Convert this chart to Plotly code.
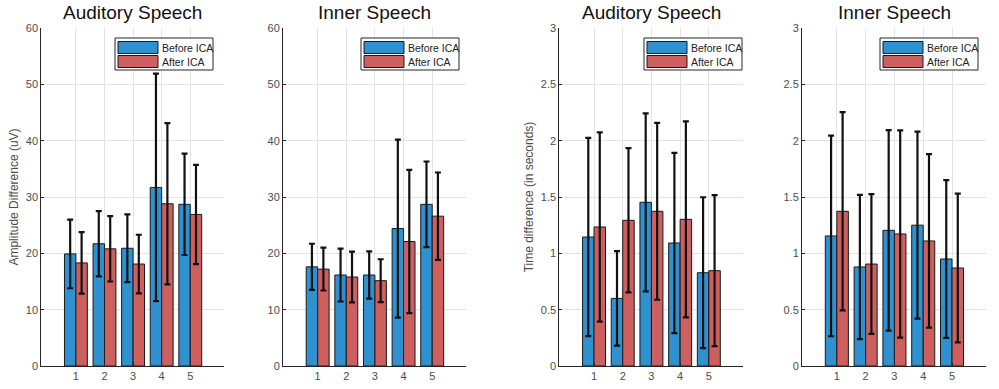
import plotly.graph_objects as go

categories = [1, 2, 3, 4, 5]

# Panel 1: Auditory Speech, amplitude difference (uV)
amp_aud_before = [19.9, 21.7, 20.9, 31.7, 28.7]
amp_aud_before_err = [6.1, 5.8, 6.0, 20.2, 9.0]
amp_aud_after = [18.3, 20.8, 18.1, 28.8, 26.9]
amp_aud_after_err = [5.45, 5.8, 5.2, 14.3, 8.8]

# Panel 2: Inner Speech, amplitude difference (uV)
amp_inn_before = [17.6, 16.15, 16.15, 24.4, 28.7]
amp_inn_before_err = [4.1, 4.7, 4.2, 15.8, 7.6]
amp_inn_after = [17.2, 15.8, 15.15, 22.1, 26.6]
amp_inn_after_err = [3.8, 4.5, 3.8, 12.7, 7.75]

# Panel 3: Auditory Speech, time difference (s)
time_aud_before = [1.145, 0.60, 1.453, 1.092, 0.828]
time_aud_before_err = [0.88, 0.42, 0.79, 0.80, 0.67]
time_aud_after = [1.234, 1.293, 1.373, 1.302, 0.846]
time_aud_after_err = [0.84, 0.64, 0.785, 0.87, 0.67]

# Panel 4: Inner Speech, time difference (s)
time_inn_before = [1.154, 0.879, 1.204, 1.25, 0.95]
time_inn_before_err = [0.89, 0.64, 0.89, 0.83, 0.70]
time_inn_after = [1.373, 0.905, 1.172, 1.11, 0.87]
time_inn_after_err = [0.88, 0.62, 0.92, 0.77, 0.66]

titles = ["Auditory Speech", "Inner Speech", "Auditory Speech", "Inner Speech"]
ylabels = ["Amplitude Difference (uV)", "", "Time difference (in seconds)", ""]
series_names = ["Before ICA", "After ICA"]

BLUE = "#2f91d0"
RED = "#cd5f5f"
FONT = "Liberation Sans, Arial, sans-serif"
AXC = "#262626"
TICKC = "#4d4d4d"

panels = [
    (amp_aud_before, amp_aud_before_err, amp_aud_after, amp_aud_after_err),
    (amp_inn_before, amp_inn_before_err, amp_inn_after, amp_inn_after_err),
    (time_aud_before, time_aud_before_err, time_aud_after, time_aud_after_err),
    (time_inn_before, time_inn_before_err, time_inn_after, time_inn_after_err),
]

W, H = 999, 389
x_px = [(41.3, 224.0), (283.0, 466.0), (559.3, 742.7), (802.0, 986.0)]
y_px = (28.0, 366.0)
legend_right_px = [213, 459, 742, 978]
yranges = [[0, 60], [0, 60], [0, 3], [0, 3]]
dticks = [10, 10, 0.5, 0.5]

fig = go.Figure()
layout = dict(
    template="none",
    width=W, height=H, autosize=False,
    margin=dict(l=0, r=0, t=0, b=0, pad=0, autoexpand=False),
    paper_bgcolor="white", plot_bgcolor="white",
    barmode="group", bargap=0.2, bargroupgap=0.0,
    font=dict(family=FONT, color=TICKC),
    showlegend=False, hovermode=False,
    annotations=[], shapes=[],
)

ydom = [1 - y_px[1] / H, 1 - y_px[0] / H]


def px_x(v):
    return v / W


def px_y(v):
    return 1 - v / H


for i, (b, be, a, ae) in enumerate(panels):
    n = i + 1
    xa = "x" if n == 1 else f"x{n}"
    ya = "y" if n == 1 else f"y{n}"
    for vals, errs, name, col in [(b, be, series_names[0], BLUE), (a, ae, series_names[1], RED)]:
        fig.add_trace(go.Bar(
            x=categories, y=vals, name=name, xaxis=xa, yaxis=ya,
            marker=dict(color=col, line=dict(color="#1a1a1a", width=1)),
            error_y=dict(type="data", array=errs, visible=True, color="#111111",
                         thickness=2.2, width=3),
        ))
    xd = [x_px[i][0] / W, x_px[i][1] / W]
    xkey = "xaxis" if n == 1 else f"xaxis{n}"
    ykey = "yaxis" if n == 1 else f"yaxis{n}"
    layout[xkey] = dict(
        domain=xd, anchor=ya, range=[-0.21, 6.18], automargin=False,
        tickmode="array", tickvals=categories, ticktext=[str(c) for c in categories],
        showgrid=True, gridcolor="#e3e3e3", gridwidth=1,
        showline=True, linecolor=AXC, linewidth=1, mirror=False,
        ticks="inside", ticklen=3, tickcolor=AXC,
        tickfont=dict(size=11, color=TICKC, family=FONT),
        zeroline=False, fixedrange=True,
    )
    layout[ykey] = dict(
        domain=ydom, anchor=xa, range=yranges[i], dtick=dticks[i], automargin=False,
        showgrid=True, gridcolor="#e3e3e3", gridwidth=1,
        showline=True, linecolor=AXC, linewidth=1, mirror=False,
        ticks="inside", ticklen=3, tickcolor=AXC,
        tickfont=dict(size=11, color=TICKC, family=FONT),
        zeroline=False, fixedrange=True,
        title=dict(text=ylabels[i], font=dict(size=12, color=TICKC, family=FONT), standoff=4),
    )
    # title
    layout["annotations"].append(dict(
        text=titles[i], xref="paper", yref="paper",
        x=(xd[0] + xd[1]) / 2, y=px_y(13), xanchor="center", yanchor="middle",
        showarrow=False, font=dict(size=19, color="#111111", family=FONT),
    ))
    # legend box (MATLAB style)
    R = legend_right_px[i]
    layout["shapes"].append(dict(
        type="rect", xref="paper", yref="paper",
        x0=px_x(R - 98), x1=px_x(R), y0=px_y(70), y1=px_y(38),
        fillcolor="white", line=dict(color=AXC, width=1), layer="above",
    ))
    for k, (name, col) in enumerate([(series_names[0], BLUE), (series_names[1], RED)]):
        top = 41.5 + k * 14
        layout["shapes"].append(dict(
            type="rect", xref="paper", yref="paper",
            x0=px_x(R - 95), x1=px_x(R - 55), y0=px_y(top + 12), y1=px_y(top),
            fillcolor=col, line=dict(color="#1a1a1a", width=1), layer="above",
        ))
        layout["annotations"].append(dict(
            text=name, xref="paper", yref="paper",
            x=px_x(R - 53), y=px_y(top + 6), xanchor="left", yanchor="middle",
            showarrow=False, font=dict(size=10.5, color="#222222", family=FONT),
        ))

fig.update_layout(**layout)
fig.write_html(
    "out.html",
    config={"displayModeBar": False, "staticPlot": True},
    post_script="document.body.style.margin='0';document.body.style.padding='0';",
)
